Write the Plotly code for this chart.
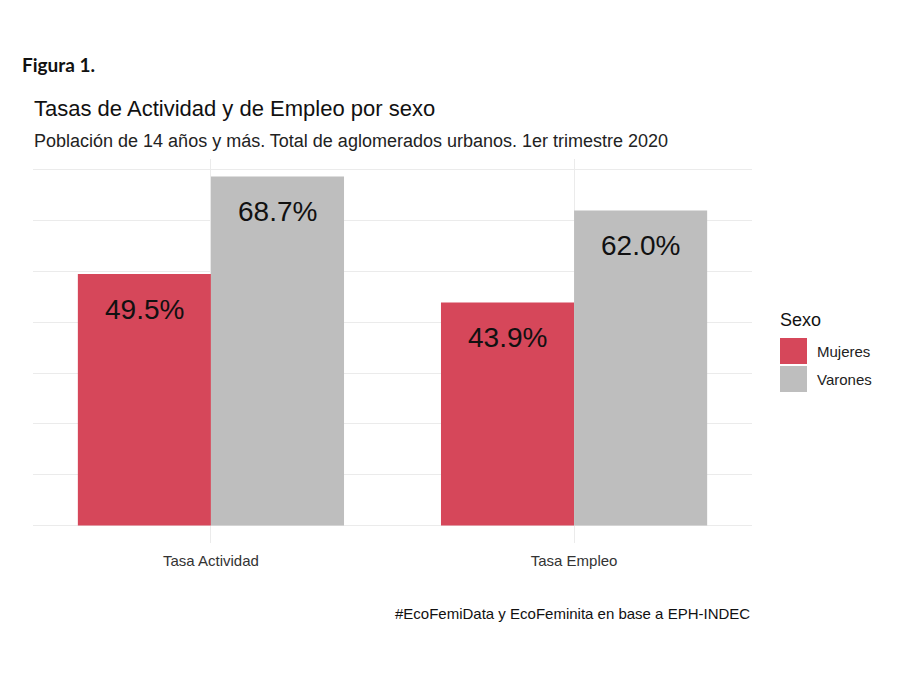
import plotly.graph_objects as go

categories = ["Tasa Actividad", "Tasa Empleo"]
series_names = ["Mujeres", "Varones"]
mujeres = [49.5, 43.9]
varones = [68.7, 62.0]
series_values = [mujeres, varones]
colors = ["#D6475A", "#BEBEBE"]

# page has an 8px body margin; build figure in page coordinates
PAD = 8
W, H = 900 - PAD, 675 - PAD
left_px, right_px, top_px, bottom_px = 33, 752, 159, 543   # page pixel panel bounds
ml = left_px - PAD
mt = top_px - PAD
mr = W - (right_px - PAD)
mb = H - (bottom_px - PAD)
pw = right_px - left_px
ph = bottom_px - top_px

xr = [-0.49, 1.49]
ymax = max(max(v) for v in series_values)
yr = [-0.05 * ymax, 1.05 * ymax]
group_w = 0.733
bw = group_w / 2

fig = go.Figure()
for k, (name, vals, col) in enumerate(zip(series_names, series_values, colors)):
    off = -group_w / 2 + bw * (k + 0.5)
    xs = [i + off for i in range(len(categories))]
    fig.add_trace(go.Bar(x=xs, y=vals, width=bw, name=name,
                         marker=dict(color=col, line=dict(width=0)),
                         showlegend=False, hoverinfo="skip"))
    for x, v in zip(xs, vals):
        fig.add_annotation(x=x, y=v, xref="x", yref="y", yshift=-35,
                           text=f"{v:.1f}%", showarrow=False,
                           font=dict(family="Liberation Sans, Arial", size=28, color="#111111"))

def px2x(px):
    return (px - left_px) / pw

def py2y(py):
    return (bottom_px - py) / ph

# titles
fig.add_annotation(x=px2x(20), y=py2y(65), xref="paper", yref="paper", xanchor="left", yanchor="middle",
                   text="<b>Figura 1.</b>", showarrow=False,
                   font=dict(family="Lato, Open Sans", size=19, color="#111111"))
fig.add_annotation(x=px2x(32), y=py2y(108), xref="paper", yref="paper", xanchor="left", yanchor="middle",
                   text="Tasas de Actividad y de Empleo por sexo", showarrow=False,
                   font=dict(family="Liberation Sans, Arial", size=22, color="#111111"))
fig.add_annotation(x=px2x(32), y=py2y(141), xref="paper", yref="paper", xanchor="left", yanchor="middle",
                   text="Población de 14 años y más. Total de aglomerados urbanos. 1er trimestre 2020",
                   showarrow=False,
                   font=dict(family="Liberation Sans, Arial", size=18, color="#222222"))
fig.add_annotation(x=1, y=py2y(613), xref="paper", yref="paper", xanchor="right", yanchor="middle",
                   text="#EcoFemiData y EcoFeminita en base a EPH-INDEC", showarrow=False,
                   font=dict(family="Liberation Sans, Arial", size=15, color="#111111"))

# legend (custom, ggplot-style large keys)
fig.add_annotation(x=px2x(778), y=py2y(320), xref="paper", yref="paper", xanchor="left", yanchor="middle",
                   text="Sexo", showarrow=False,
                   font=dict(family="Liberation Sans, Arial", size=18, color="#111111"))
for k, (name, col) in enumerate(zip(series_names, colors)):
    top = 338 + k * 28
    fig.add_shape(type="rect", xref="paper", yref="paper",
                  x0=px2x(780), x1=px2x(807), y0=py2y(top + 26), y1=py2y(top),
                  fillcolor=col, line=dict(width=0))
    fig.add_annotation(x=px2x(815), y=py2y(top + 13), xref="paper", yref="paper",
                       xanchor="left", yanchor="middle", text=name, showarrow=False,
                       font=dict(family="Liberation Sans, Arial", size=15, color="#222222"))

fig.update_layout(
    width=W, height=H,
    margin=dict(l=ml, r=mr, t=mt, b=mb),
    paper_bgcolor="white", plot_bgcolor="white",
    barmode="overlay",
    showlegend=False,
    xaxis=dict(range=xr, tickmode="array", tickvals=list(range(len(categories))),
               ticktext=categories, showgrid=True, gridcolor="#EBEBEB", gridwidth=1,
               zeroline=False, showline=False, ticks="", ticklabelstandoff=7,
               tickfont=dict(family="Liberation Sans, Arial", size=15, color="#333333")),
    yaxis=dict(range=yr, dtick=10, showgrid=True, gridcolor="#EBEBEB", gridwidth=1,
               zeroline=False, showticklabels=False, showline=False, ticks=""),
)

fig.write_html("out.html")
